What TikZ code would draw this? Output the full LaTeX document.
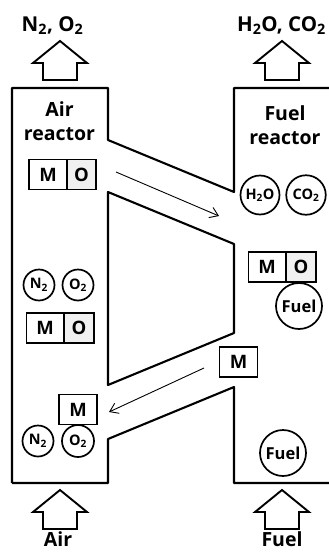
\documentclass[tikz,border=0pt]{standalone}
\usepackage{fontspec}
\setmainfont{Open Sans}
\usetikzlibrary{arrows.meta}
\tikzset{
  wall/.style={line width=2.1pt,line join=round},
  bigarrow/.style={draw,line width=1.9pt,fill=white,line join=miter},
  cell/.style={draw,line width=1.9pt,minimum height=30pt,inner sep=0pt,font=\bfseries\fontsize{18.5}{18.5}\selectfont},
  mol/.style={circle,draw,line width=1.7pt,inner sep=0pt,font=\bfseries\fontsize{#1}{#1}\selectfont},
  mol/.default=14.5,
  lab/.style={font=\bfseries\fontsize{19.5}{24.5}\selectfont,align=center,inner sep=0pt},
  toplab/.style={font=\bfseries\fontsize{20.5}{24.5}\selectfont,inner sep=0pt,anchor=base},
  flow/.style={line width=0.9pt,-{Straight Barb[length=8pt,width=11pt]}},
  oxy/.style={fill=black!6}
}
\newcommand{\bigup}[2]{\draw[bigarrow] (#1,#2)--++(27,22)--++(-10,0)--++(0,17)--++(-34,0)--++(0,-17)--++(-10,0)--cycle;}
\newcommand{\sbs}[1]{\textsubscript{#1}}
\begin{document}
\begin{tikzpicture}[x=1pt,y=-1pt]
\useasboundingbox (0,0) rectangle (329,552);
\draw[wall] (12,483)--(12,88)--(108,88)--(108,140)--(234,192)--(234,88)--(329,88);
\draw[wall] (108,192)--(234,244)--(234,333)--(108,385)--cycle;
\draw[wall] (12,483)--(108,483)--(108,439)--(234,387)--(234,483)--(329,483);
\bigup{60}{41}
\bigup{282}{41}
\bigup{60}{490}
\bigup{282}{490}
\node[toplab] (n1) at (52.5,31) {N\sbs{2}, O\sbs{2}};
\node[toplab] (n2) at (281.5,31) {H\sbs{2}O, CO\sbs{2}};
\node[lab] (n3) at (59.5,121) {Air\\reactor};
\node[lab] (n4) at (285,125) {Fuel\\reactor};
\node[lab,anchor=base] (n5) at (58,546.5) {Air};
\node[lab,anchor=base] (n6) at (282,546.5) {Fuel};
\node[cell,minimum width=38pt] (m1) at (48,174.5) {M};
\node[cell,oxy,minimum width=29.5pt] (o1) at (81.5,174.5) {O};
\node[cell,minimum width=37pt] (m2) at (45,328) {M};
\node[cell,oxy,minimum width=30.5pt] (o2) at (79,328) {O};
\node[cell,minimum width=37pt] (m3) at (267,267) {M};
\node[cell,oxy,minimum width=30pt] (o3) at (301,267) {O};
\node[cell,fill=white,minimum width=38pt] (m4) at (78,409.5) {M};
\node[cell,fill=white,minimum width=38pt] (m5) at (238.5,362) {M};
\node[mol,minimum size=39pt] (h) at (260,195) {H\sbs{2}O};
\node[mol,minimum size=39.5pt] (c) at (306,195) {CO\sbs{2}};
\node[mol,minimum size=31pt] (a) at (39,285) {N\sbs{2}};
\node[mol,minimum size=31pt] (b) at (78,285) {O\sbs{2}};
\node[mol,minimum size=31pt] (d) at (38,441) {N\sbs{2}};
\node[mol,minimum size=32pt] (e) at (78,441) {O\sbs{2}};
\node[mol=16.5,minimum size=46pt] (f) at (299,306) {Fuel};
\node[mol=16.5,minimum size=46pt] (g) at (283,453) {Fuel};
\coordinate (s1) at (116,172);
\coordinate (t1) at (219,216);
\coordinate (s2) at (204,368);
\coordinate (t2) at (109,412);
\draw[flow] (s1)--(t1);
\draw[flow] (s2)--(t2);
\end{tikzpicture}
\end{document}
